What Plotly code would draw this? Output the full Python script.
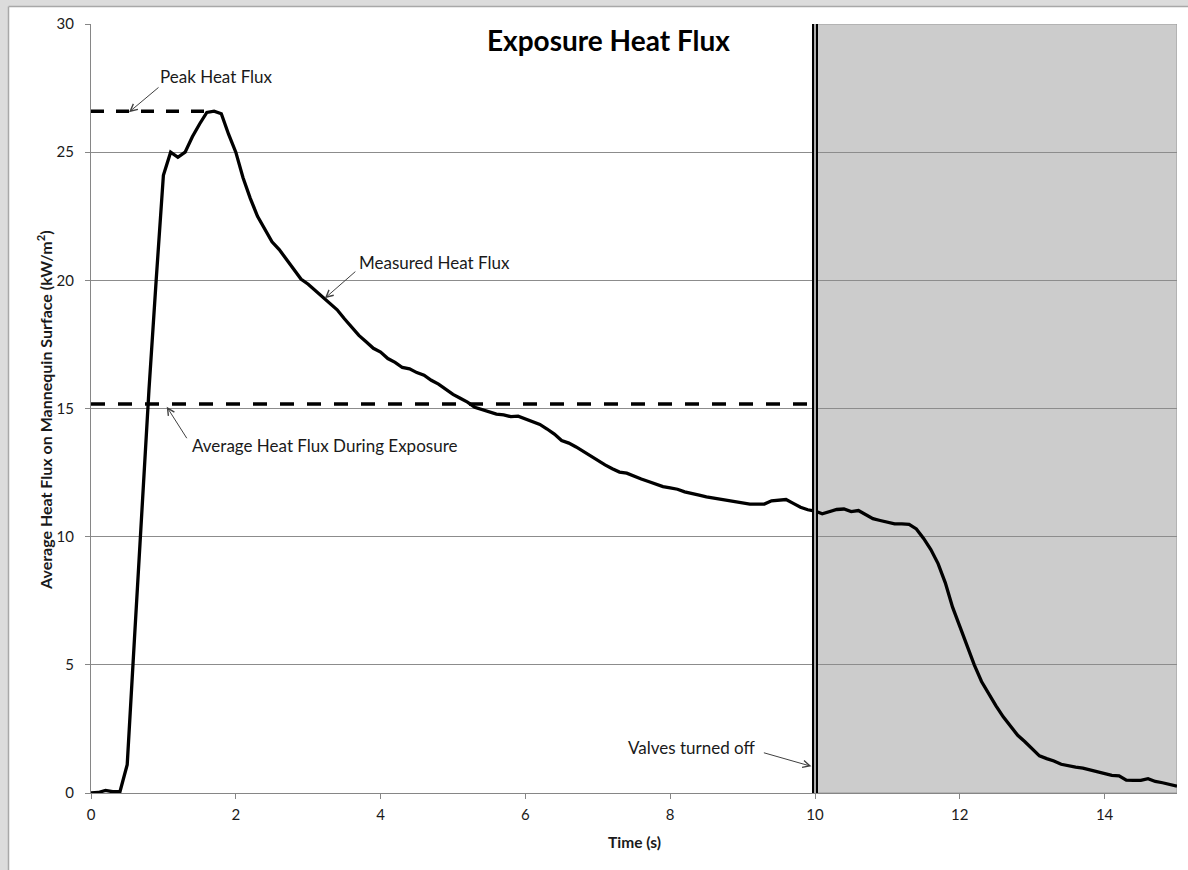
import plotly.graph_objects as go

# ---- data ----
time_s = [0.0, 0.1, 0.2, 0.3, 0.4, 0.5, 0.6, 0.7, 0.8, 0.9,
          1.0, 1.1, 1.2, 1.3, 1.4, 1.5, 1.6, 1.7, 1.8, 1.9,
          2.0, 2.1, 2.2, 2.3, 2.4, 2.5, 2.6, 2.7, 2.8, 2.9,
          3.0, 3.1, 3.2, 3.3, 3.4, 3.5, 3.6, 3.7, 3.8, 3.9,
          4.0, 4.1, 4.2, 4.3, 4.4, 4.5, 4.6, 4.7, 4.8, 4.9,
          5.0, 5.1, 5.2, 5.3, 5.4, 5.5, 5.6, 5.7, 5.8, 5.9,
          6.0, 6.1, 6.2, 6.3, 6.4, 6.5, 6.6, 6.7, 6.8, 6.9,
          7.0, 7.1, 7.2, 7.3, 7.4, 7.5, 7.6, 7.7, 7.8, 7.9,
          8.0, 8.1, 8.2, 8.3, 8.4, 8.5, 8.6, 8.7, 8.8, 8.9,
          9.0, 9.1, 9.2, 9.3, 9.4, 9.5, 9.6, 9.7, 9.8, 9.9,
          10.0, 10.1, 10.2, 10.3, 10.4, 10.5, 10.6, 10.7, 10.8, 10.9,
          11.0, 11.1, 11.2, 11.3, 11.4, 11.5, 11.6, 11.7, 11.8, 11.9,
          12.0, 12.1, 12.2, 12.3, 12.4, 12.5, 12.6, 12.7, 12.8, 12.9,
          13.0, 13.1, 13.2, 13.3, 13.4, 13.5, 13.6, 13.7, 13.8, 13.9,
          14.0, 14.1, 14.2, 14.3, 14.4, 14.5, 14.6, 14.7, 14.8, 14.9, 15.0]
heat_flux = [0.0, 0.02, 0.1, 0.05, 0.05, 1.1, 6.0, 11.0, 15.7, 20.0,
             24.1, 25.0, 24.8, 25.0, 25.6, 26.1, 26.55, 26.6, 26.5, 25.7,
             25.0, 24.0, 23.2, 22.5, 22.0, 21.5, 21.2, 20.8, 20.4, 20.05,
             19.85, 19.6, 19.35, 19.1, 18.85, 18.5, 18.15, 17.85, 17.6, 17.35,
             17.2, 16.95, 16.8, 16.6, 16.55, 16.4, 16.3, 16.1, 15.95, 15.75,
             15.55, 15.4, 15.25, 15.05, 14.95, 14.85, 14.78, 14.75, 14.68, 14.7,
             14.6, 14.5, 14.38, 14.2, 14.0, 13.75, 13.65, 13.5, 13.32, 13.15,
             12.95, 12.8, 12.65, 12.52, 12.48, 12.35, 12.25, 12.15, 12.05, 11.95,
             11.9, 11.85, 11.75, 11.7, 11.62, 11.55, 11.5, 11.47, 11.4, 11.35,
             11.3, 11.27, 11.27, 11.27, 11.4, 11.42, 11.45, 11.3, 11.15, 11.05,
             11.0, 10.89, 10.98, 11.06, 11.08, 10.98, 11.02, 10.85, 10.7, 10.63,
             10.55, 10.5, 10.5, 10.48, 10.3, 9.93, 9.5, 8.95, 8.2, 7.25,
             6.5, 5.72, 5.0, 4.35, 3.85, 3.4, 2.97, 2.6, 2.25, 2.0,
             1.72, 1.45, 1.34, 1.25, 1.12, 1.05, 1.01, 0.97, 0.9, 0.84,
             0.78, 0.69, 0.67, 0.5, 0.49, 0.49, 0.56, 0.45, 0.4, 0.34, 0.27]

peak_flux = 26.6
peak_line_x = [0.0, 1.7]
avg_flux = 15.18
avg_line_x = [0.0, 10.0]
valves_off_time = 10.0
x_end = 15.0

x_ticks = [0, 2, 4, 6, 8, 10, 12, 14]
y_ticks = [0, 5, 10, 15, 20, 25, 30]

title_text = "Exposure Heat Flux"
x_title = "Time (s)"
y_title = "Average Heat Flux on Mannequin Surface (kW/m<sup>2</sup>)"

FONT = "Lato"

fig = go.Figure()

fig.add_trace(go.Scatter(x=peak_line_x, y=[peak_flux, peak_flux], mode="lines",
                         line=dict(color="black", width=3.5, dash="13px,12px"),
                         showlegend=False, hoverinfo="skip"))
fig.add_trace(go.Scatter(x=avg_line_x, y=[avg_flux, avg_flux], mode="lines",
                         line=dict(color="black", width=3.5, dash="14px,13px"),
                         showlegend=False, hoverinfo="skip"))
fig.add_trace(go.Scatter(x=time_s, y=heat_flux, mode="lines",
                         line=dict(color="black", width=3.3),
                         showlegend=False))

# shaded region after valves turned off
fig.add_shape(type="rect", xref="x", yref="y", x0=valves_off_time, x1=x_end,
              y0=0, y1=30, fillcolor="#cccccc", line=dict(color="#9a9a9a", width=1),
              layer="below")
# double vertical line
fig.add_shape(type="line", xref="x", yref="y", x0=valves_off_time, x1=valves_off_time,
              y0=0, y1=30, line=dict(color="black", width=6), layer="above")
fig.add_shape(type="line", xref="x", yref="y", x0=valves_off_time, x1=valves_off_time,
              y0=0, y1=30, line=dict(color="#d8d8d8", width=1.6), layer="above")

# layout in page pixels
L, R, T, B = 91, 11, 24, 77
W, H = 1188, 870
pw, ph = W - L - R, H - T - B
def px_x(p):
    return (p - L) / pw
def px_y(p):
    return (H - B - p) / ph

# outer frame (screenshot border)
fig.add_shape(type="rect", xref="paper", yref="paper", x0=px_x(0), x1=px_x(W),
              y0=px_y(6), y1=px_y(0), fillcolor="#dcdcdc", line=dict(width=0), layer="below")
fig.add_shape(type="rect", xref="paper", yref="paper", x0=px_x(0), x1=px_x(8),
              y0=px_y(H), y1=px_y(0), fillcolor="#dcdcdc", line=dict(width=0), layer="below")
fig.add_shape(type="line", xref="paper", yref="paper", x0=px_x(8.5), x1=px_x(W),
              y0=px_y(6.5), y1=px_y(6.5), line=dict(color="#a8a8a8", width=1.5), layer="below")
fig.add_shape(type="line", xref="paper", yref="paper", x0=px_x(8.5), x1=px_x(8.5),
              y0=px_y(6.5), y1=px_y(H), line=dict(color="#a8a8a8", width=1.5), layer="below")

txt_font = dict(family=FONT, size=17, color="#1a1a1a")
arrow_col = "#404040"

# text labels
fig.add_annotation(x=1.73, y=27.96, text="Peak Heat Flux", showarrow=False, font=txt_font)
fig.add_annotation(x=4.74, y=20.71, text="Measured Heat Flux", showarrow=False, font=txt_font)
fig.add_annotation(x=3.22, y=13.54, text="Average Heat Flux During Exposure", showarrow=False, font=txt_font)
fig.add_annotation(x=8.29, y=1.77, text="Valves turned off", showarrow=False, font=txt_font)

# arrows (tip at x,y; tail offset ax, ay in px)
for (x, y, ax, ay) in [(0.525, 26.56, 31, -26), (3.23, 19.3, 32, -28),
                       (1.046, 15.07, 21, 33), (9.95, 1.04, -49, -14)]:
    fig.add_annotation(x=x, y=y, ax=ax, ay=ay, text="", showarrow=True,
                       arrowhead=5, arrowsize=1.4, arrowwidth=1, arrowcolor=arrow_col)

# title & axis titles
fig.add_annotation(xref="paper", yref="paper", x=px_x(608), y=px_y(40), text="<b>" + title_text + "</b>",
                   showarrow=False, font=dict(family=FONT, size=28, color="black"),
                   xanchor="center", yanchor="middle")
fig.add_annotation(xref="paper", yref="paper", x=px_x(634), y=px_y(842), text="<b>" + x_title + "</b>",
                   showarrow=False, font=dict(family=FONT, size=15.5, color="#1a1a1a"),
                   xanchor="center", yanchor="middle")
fig.add_annotation(xref="paper", yref="paper", x=px_x(44), y=px_y(410), text="<b>" + y_title + "</b>",
                   showarrow=False, textangle=-90, font=dict(family=FONT, size=16, color="#1a1a1a"),
                   xanchor="center", yanchor="middle")

fig.update_xaxes(range=[0, x_end], tickvals=x_ticks, showgrid=False, zeroline=False,
                 showline=True, linecolor="#868686", linewidth=1,
                 ticks="outside", ticklen=5, tickcolor="#868686",
                 tickfont=dict(family=FONT, size=15, color="#1a1a1a"), ticklabelstandoff=3)
fig.update_yaxes(range=[0, 30], tickvals=y_ticks, showgrid=True, gridcolor="#8c8c8c", gridwidth=1,
                 zeroline=False, showline=True, linecolor="#868686", linewidth=1,
                 ticks="outside", ticklen=5, tickcolor="#868686",
                 tickfont=dict(family=FONT, size=15, color="#1a1a1a"), ticklabelstandoff=8)

fig.update_layout(width=W, height=H, margin=dict(l=L, r=R, t=T, b=B, autoexpand=False),
                  paper_bgcolor="white", plot_bgcolor="white", showlegend=False)

fig.write_html("out.html", config={"displayModeBar": False},
               post_script="document.body.style.margin='0';document.body.style.padding='0';")
